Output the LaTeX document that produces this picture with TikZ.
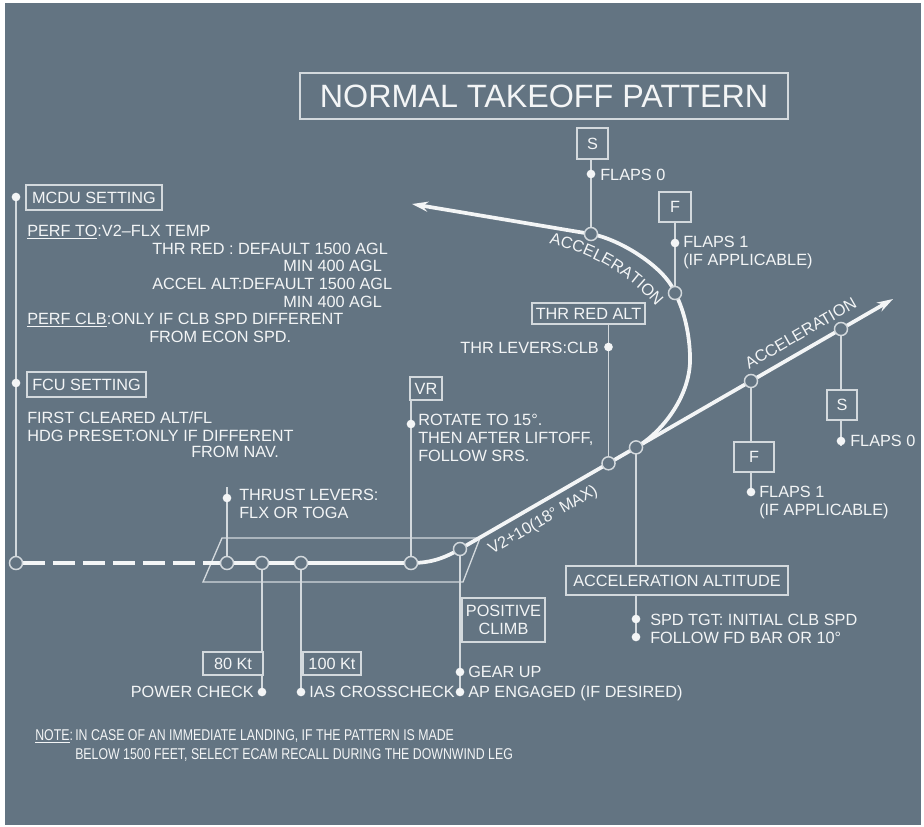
\documentclass[tikz,border=0pt]{standalone}
\usepackage{fontspec}
\setmainfont{Liberation Sans}
\newfontfamily\notefont[FakeStretch=0.79]{Liberation Sans}
\usetikzlibrary{arrows.meta,decorations.text}
\definecolor{bg}{HTML}{637482}
\definecolor{fg}{HTML}{F3F5F6}
\definecolor{ln}{HTML}{D3D9DD}
\newcommand\mfs{\fontsize{12.2pt}{13.2pt}\selectfont}
\newcommand\nfs{\notefont\fontsize{11.7pt}{13pt}\selectfont}
\begin{document}
\begin{tikzpicture}[x=0.75pt,y=-0.75pt,
  txt/.style={inner sep=0pt, anchor=base west, text=fg, font=\mfs},
  txtr/.style={txt, anchor=base east},
  box/.style={draw=ln, line width=1pt, fill=bg, text=fg, inner sep=0pt, font=\mfs},
  lead/.style={draw=ln, line width=1pt},
  route/.style={draw=fg, line width=2.8pt, line join=round},
  ring/.style={circle, draw=ln, fill=bg, line width=1.1pt, minimum size=9.8pt, inner sep=0pt},
  dot/.style={circle, fill=fg, minimum size=6.5pt, inner sep=0pt},
  tip/.style={-{Stealth[length=12pt,width=7.5pt]}}
]
\fill[white] (0,0) rectangle (924,826);
\fill[bg] (5,3) rectangle (921,825);
\useasboundingbox (0,0) rectangle (924,826);

% key points
\coordinate (rw0) at (16,563);
\coordinate (rwA) at (23,563);
\coordinate (rwD) at (204,563);
\coordinate (rwT) at (227,563);
\coordinate (rw80) at (262,563);
\coordinate (rw100) at (301,563);
\coordinate (rwVR) at (411,563);
\coordinate (lo) at (460,549);
\coordinate (cTR) at (608.5,463.3);
\coordinate (cAA) at (636,447.4);
\coordinate (cF) at (751,381);
\coordinate (cS) at (841,329);
\coordinate (cEnd) at (893,299);
\coordinate (tF) at (675,293);
\coordinate (tS) at (591,234);
\coordinate (tEnd) at (412,204);

% parallelogram (runway)
\draw[lead] (222,538) -- (480,538) -- (463,582) -- (203,582) -- cycle;

% leader lines
\draw[lead] (16,196) -- (rw0);
\draw[lead] (227,487) -- (rwT);
\draw[lead] (rw80) -- (262,692);
\draw[lead] (rw100) -- (301,692);
\draw[lead] (411,400) -- (rwVR);
\draw[lead] (lo) -- (460,692);
\draw[lead] (608.5,324) -- (cTR);
\draw[lead] (cAA) -- (636,639);
\draw[lead] (cF) -- (751,494);
\draw[lead] (cS) -- (841,446);
\draw[lead] (591,159) -- (tS);
\draw[lead] (675,222) -- (tF);

% flight path
\draw[route, dash pattern=on 16.5pt off 6pt] (rwA) -- (rwD);
\draw[route, tip] (rwD) -- (rwVR) .. controls (432,563) and (445.3,557.5) .. (lo) -- (cEnd);
\draw[route, tip] (cAA) .. controls (662,432.4) and (692,395) .. (690,355)
   .. controls (689,328) and (682,306) .. (tF)
   .. controls (666,268) and (620,239) .. (tS) -- (tEnd);

% rings
\node[ring] (R0) at (rw0) {};
\node[ring] (RT) at (rwT) {};
\node[ring] (R80) at (rw80) {};
\node[ring] (R100) at (rw100) {};
\node[ring] (RVR) at (rwVR) {};
\node[ring] (RLO) at (lo) {};
\node[ring] (RTR) at (cTR) {};
\node[ring] (RAA) at (cAA) {};
\node[ring] (RF) at (cF) {};
\node[ring] (RS) at (cS) {};
\node[ring] (RtF) at (tF) {};
\node[ring] (RtS) at (tS) {};

% dots
\node[dot] (d1) at (16,197) {};
\node[dot] (d2) at (16,383) {};
\node[dot] (d3) at (227,498) {};
\node[dot] (d4) at (411,424) {};
\node[dot] (d5) at (608.5,347) {};
\node[dot] (d6) at (591,174) {};
\node[dot] (d7) at (675,243) {};
\node[dot] (d8) at (751,492) {};
\node[dot] (d9) at (841,441) {};
\node[dot] (d10) at (636,619) {};
\node[dot] (d11) at (636,637) {};
\node[dot] (d12) at (262,692) {};
\node[dot] (d13) at (301,692) {};
\node[dot] (d14) at (460,672) {};
\node[dot] (d15) at (460,692) {};

% boxes
\node[box, minimum width=366pt, minimum height=34.5pt, font=\fontsize{24.2pt}{26pt}\selectfont] (title) at (544,96) {NORMAL TAKEOFF PATTERN};
\node[box, minimum width=102pt, minimum height=18.75pt] (mcdu) at (94,197.5) {MCDU SETTING};
\node[box, minimum width=89.25pt, minimum height=18.75pt] (fcu) at (86.5,384.5) {FCU SETTING};
\node[box, minimum width=24pt, minimum height=17.25pt] (vr) at (426,388.5) {VR};
\node[box, minimum width=84.75pt, minimum height=15.75pt] (thr) at (588.5,313.5) {THR RED ALT};
\node[box, minimum width=23.25pt, minimum height=23.25pt] (sTop) at (592.5,143.5) {S};
\node[box, minimum width=24pt, minimum height=22.5pt] (fTop) at (675,207) {F};
\node[box, minimum width=30pt, minimum height=22.5pt] (fClb) at (754,457) {F};
\node[box, minimum width=22.5pt, minimum height=22.5pt] (sClb) at (842,405) {S};
\node[box, minimum width=166.5pt, minimum height=21.75pt] (aa) at (677,580.5) {ACCELERATION ALTITUDE};
\node[box, minimum width=62.25pt, minimum height=33pt, align=center] (pc) at (503.5,620) {POSITIVE\\CLIMB};
\node[box, minimum width=45pt, minimum height=17.25pt] (k80) at (233,663.5) {80 Kt};
\node[box, minimum width=43.5pt, minimum height=17.25pt] (k100) at (332,663.5) {100 Kt};

% MCDU block
\node[txt] (m1) at (27,236) {\underline{PERF TO}:V2–FLX TEMP};
\node[txt] (m2) at (152,254) {THR RED : DEFAULT 1500 AGL};
\node[txt] (m3) at (283,271) {MIN 400 AGL};
\node[txt] (m4) at (152,289) {ACCEL ALT:DEFAULT 1500 AGL};
\node[txt] (m5) at (283,307) {MIN 400 AGL};
\node[txt] (m6) at (27,324) {\underline{PERF CLB}:ONLY IF CLB SPD DIFFERENT};
\node[txt] (m7) at (149,342) {FROM ECON SPD.};

% FCU block
\node[txt] (f1) at (27,423) {FIRST CLEARED ALT/FL};
\node[txt] (f2) at (27,441) {HDG PRESET:ONLY IF DIFFERENT};
\node[txt] (f3) at (191,457.5) {FROM NAV.};

% runway texts
\node[txt] (tl1) at (239,500) {THRUST LEVERS:};
\node[txt] (tl2) at (239,518) {FLX OR TOGA};
\node[txt] (vr1) at (418,425) {ROTATE TO 15°.};
\node[txt] (vr2) at (418,443) {THEN AFTER LIFTOFF,};
\node[txt] (vr3) at (418,461) {FOLLOW SRS.};
\node[txtr] (pw) at (254,697) {POWER CHECK};
\node[txt] (ias) at (309,697) {IAS CROSSCHECK};
\node[txt] (gu) at (468,677) {GEAR UP};
\node[txt] (ap) at (468,697) {AP ENGAGED (IF DESIRED)};

% climb texts
\node[txtr] (tlc) at (599,353) {THR LEVERS:CLB};
\node[txt] (fl0a) at (600,180) {FLAPS 0};
\node[txt] (fl1a) at (683,247) {FLAPS 1};
\node[txt] (fl1b) at (683,265) {(IF APPLICABLE)};
\node[txt] (fl1c) at (759,497) {FLAPS 1};
\node[txt] (fl1d) at (759,515) {(IF APPLICABLE)};
\node[txt] (fl0b) at (850,446) {FLAPS 0};
\node[txt] (sp1) at (650,625) {SPD TGT: INITIAL CLB SPD};
\node[txt] (sp2) at (650,643) {FOLLOW FD BAR OR 10°};

% rotated labels
\node[txt, rotate=30] (v2) at (492,555) {V2+10(18° MAX)};
\node[txt, rotate=30] (acc2) at (749,369.5) {ACCELERATION};
\path[decorate, decoration={text along path, text={|\mfs\color{fg}|ACCELERATION}}]
  (549,244) .. controls (592,253) and (636,277) .. (664,317);

% note
\node[txt, font=\nfs] (n0) at (35,740) {\underline{NOTE}:};
\node[txt, font=\nfs] (n1) at (75,740) {IN CASE OF AN IMMEDIATE LANDING, IF THE PATTERN IS MADE};
\node[txt, font=\nfs] (n2) at (75,759) {BELOW 1500 FEET, SELECT ECAM RECALL DURING THE DOWNWIND LEG};
\end{tikzpicture}
\end{document}
